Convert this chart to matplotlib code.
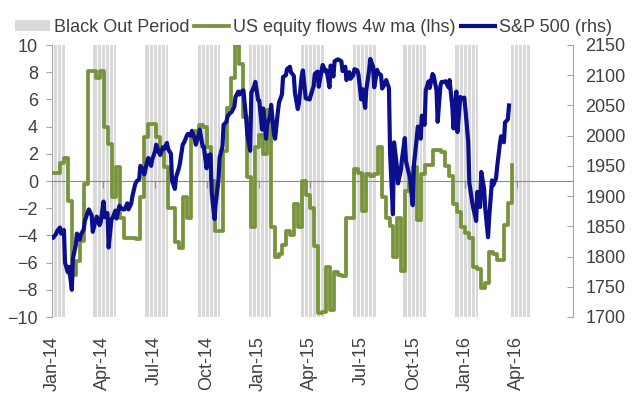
import numpy as np
import pandas as pd
import matplotlib
matplotlib.use('Agg')
import matplotlib.pyplot as plt
from matplotlib.patches import Patch
from matplotlib.lines import Line2D

# weekly US equity flows, 4w moving average (lhs), one value per week from 2 Jan 2014
flows = [0.6, 0.6, 1.3, 1.7, -1.5, -6.9, -5.9, -4.4, -0.2, 8.1,
         8.1, 7.6, 8.1, 4.0, 2.7, -1.2, 1.0, -2.7, -4.2, -4.2,
         -4.2, -4.3, -1.2, 3.2, 4.2, 4.2, 3.2, 2.2, 1.0, -2.0,
         -2.0, -4.5, -4.9, -1.2, -2.7, 3.2, 3.7, 4.1, 4.0, 2.5,
         0.0, -3.7, -3.7, 2.2, 5.4, 7.6, 10.0, 8.6, 4.7, 0.3,
         -3.4, 2.5, 3.4, 2.0, 5.2, -3.4, -5.6, -5.4, -4.7, -3.7,
         -4.0, -1.7, -3.4, 0.0, -1.0, -2.0, -4.8, -9.7, -9.6, -6.3,
         -9.5, -6.7, -6.9, -7.0, -2.7, -2.7, 0.9, 0.6, -2.2, 0.5,
         0.4, 0.5, 2.5, -1.2, -2.7, -3.3, -5.6, -2.7, -6.6, -0.7,
         0.5, 1.0, -2.9, 0.5, 1.2, 1.2, 2.3, 2.3, 2.1, 1.1,
         0.4, -1.7, -2.3, -3.4, -3.8, -4.2, -6.3, -6.5, -7.9, -7.5,
         -5.2, -5.4, -5.8, -5.8, -3.2, -1.6, 1.2]
flow_start = '2014-01-02'

# S&P 500 (rhs): mid-week and Friday level for each week ending Friday from 3 Jan 2014
spx_mid = [1832, 1837, 1848, 1844, 1774, 1745, 1819, 1828, 1845, 1873,
           1868, 1860, 1852, 1891, 1872, 1862, 1876, 1884, 1878, 1888,
           1888, 1920, 1928, 1943, 1957, 1950, 1974, 1972, 1981, 1988,
           1970, 1912, 1946, 1986, 2000, 2000, 1995, 2001, 1982, 1946,
           1969, 1862, 1927, 1982, 2023, 2038, 2048, 2073, 2074, 2026,
           1975, 2082, 2059, 2010, 1995, 2032, 2002, 2041, 2068, 2100,
           2114, 2099, 2044, 2099, 2062, 2060, 2082, 2106, 2107, 2106,
           2080, 2098, 2126, 2123, 2114, 2105, 2100, 2108, 2060, 2046,
           2108, 2114, 2109, 2100, 2086, 2079, 1870, 1949, 1943, 1996,
           1938, 1885, 1995, 1995, 2018, 2090, 2102, 2075, 2083, 2089,
           2080, 2047, 2073, 2064, 2063, 1990, 1890, 1859, 1882, 1912,
           1832, 1926, 1929, 1987, 1989, 2027]
spx_fri = [1831, 1842, 1838, 1790, 1783, 1797, 1838, 1836, 1859, 1878,
           1841, 1866, 1857, 1865, 1815, 1864, 1863, 1881, 1878, 1878,
           1900, 1924, 1950, 1936, 1963, 1961, 1985, 1968, 1978, 1978,
           1925, 1931, 1955, 1988, 2003, 2008, 1985, 2010, 1982, 1967,
           1906, 1887, 1964, 2018, 2032, 2039, 2064, 2068, 2075, 2002,
           2071, 2089, 2058, 2045, 2019, 2051, 1995, 2055, 2097, 2110,
           2105, 2071, 2053, 2108, 2061, 2067, 2102, 2081, 2117, 2108,
           2116, 2123, 2126, 2107, 2092, 2094, 2110, 2102, 2077, 2076,
           2127, 2080, 2104, 2078, 2092, 1971, 1989, 1921, 1961, 1958,
           1932, 1951, 2015, 2033, 2075, 2079, 2099, 2023, 2089, 2090,
           2092, 2012, 2006, 2061, 2044, 1922, 1880, 1907, 1940, 1880,
           1865, 1918, 1948, 1999, 2022, 2050]
spx_first_friday = '2014-01-03'

# buyback black-out periods: first day and number of weeks
blackout_start = ['2013-12-28', '2014-03-15', '2014-06-15', '2014-09-15', '2014-12-14',
                  '2015-03-16', '2015-06-16', '2015-09-13', '2015-12-14', '2016-03-21']
blackout_weeks = [4, 6, 6, 6, 6, 6, 6, 6, 6, 5]

tick_labels = ['Jan-14', 'Apr-14', 'Jul-14', 'Oct-14', 'Jan-15',
               'Apr-15', 'Jul-15', 'Oct-15', 'Jan-16', 'Apr-16']

green = '#77933C'
navy = '#0B0F8C'
bar_gray = '#D9D9D9'
axis_gray = '#A6A6A6'
text_col = '#404040'

plt.rcParams['font.family'] = ['Liberation Sans', 'DejaVu Sans']
plt.rcParams['font.size'] = 13

flow_dates = pd.date_range(flow_start, periods=len(flows), freq='7D')
fridays = pd.date_range(spx_first_friday, periods=len(spx_fri), freq='W-FRI')
spx_dates = []
spx_vals = []
for f, m, v in zip(fridays, spx_mid, spx_fri):
  spx_dates += [f - pd.Timedelta(days=2), f]
  spx_vals += [m, v]

fig = plt.figure(figsize=(6.4, 4.11), dpi=100)
ax = fig.add_axes([52/640, 1-317/411, (573-52)/640, (317-45)/411])
ax2 = ax.twinx()

x0 = pd.Timestamp('2014-01-01')
x1 = x0 + pd.Timedelta(days=920)

# black-out periods: gray block split into weeks by thin white lines
week = pd.Timedelta(days=7)
for s, n in zip(blackout_start, blackout_weeks):
  s = pd.Timestamp(s)
  ax.axvspan(s, s + n*week - pd.Timedelta(days=1.5), color=bar_gray, lw=0, zorder=0)
  for w in range(1, n):
    ax.axvline(s + w*week - pd.Timedelta(days=0.8), color='white', lw=0.7, zorder=0.5)

ax.step(flow_dates, flows, where='post', color=green, lw=2.7, zorder=3)
ax2.plot(spx_dates, spx_vals, color=navy, lw=3.0, zorder=3)

ax.set_xlim(x0, x1)
ax.set_ylim(-10, 10)
ax.set_yticks(np.arange(-10, 11, 2))
ax2.set_ylim(1700, 2150)
ax2.set_yticks(np.arange(1700, 2151, 50))

for s in ['top', 'right']:
  ax.spines[s].set_visible(False)
for s in ['top', 'left', 'bottom']:
  ax2.spines[s].set_visible(False)
ax.spines['left'].set_color(axis_gray)
ax.spines['bottom'].set_position(('data', 0))
ax.spines['bottom'].set_color('#8C8C8C')
ax2.spines['right'].set_color(axis_gray)

tick_dates = [pd.to_datetime(t, format='%b-%y') for t in tick_labels]
ax.set_xticks(tick_dates)
ax.tick_params(axis='x', direction='out', length=5, color='#8C8C8C', labelbottom=False)
ax.tick_params(axis='y', direction='out', length=4, color=axis_gray, labelcolor=text_col, pad=6)
ax2.tick_params(axis='y', direction='in', length=4, color=axis_gray, labelcolor=text_col, pad=9)

sec = ax.secondary_xaxis('bottom')
sec.set_xticks(tick_dates)
sec.set_xticklabels(tick_labels, rotation=90, color=text_col)
sec.tick_params(length=0, pad=14)
sec.spines['bottom'].set_visible(False)

handles = [Patch(facecolor=bar_gray, edgecolor='none'),
           Line2D([], [], color=green, lw=2.7),
           Line2D([], [], color=navy, lw=3.0)]
labels = ['Black Out Period', 'US equity flows 4w ma (lhs)', 'S&P 500 (rhs)']
fig.legend(handles, labels, loc='center', bbox_to_anchor=(0.49, 0.934), ncol=3,
           frameon=False, handlelength=1.9, handleheight=0.55, handletextpad=0.22,
           columnspacing=0.3, labelcolor=text_col, borderaxespad=0, borderpad=0)

fig.savefig('out.png', dpi=100)
